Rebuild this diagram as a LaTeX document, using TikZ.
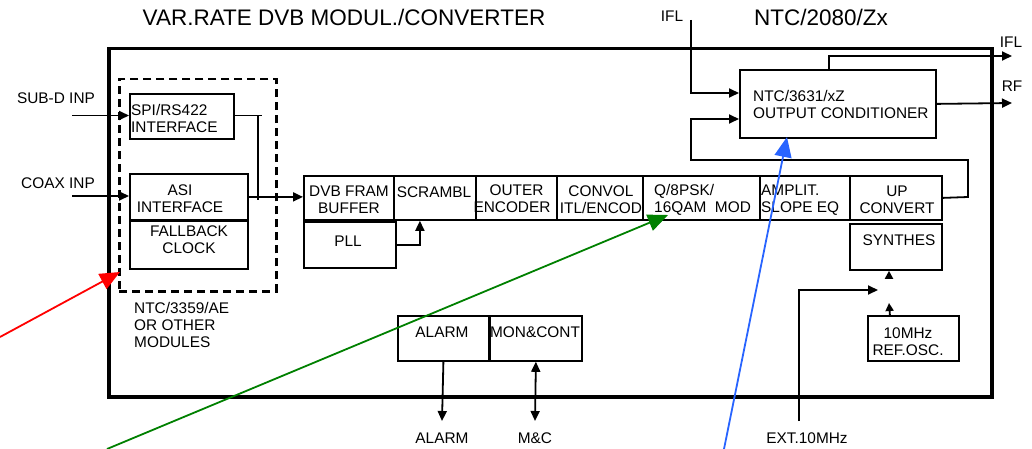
\documentclass[tikz,border=0pt]{standalone}
\usepackage{fontspec}
\setmainfont{Liberation Sans}
\usetikzlibrary{arrows.meta}
\begin{document}
\begin{tikzpicture}[x=1pt,y=-1pt,
  box/.style={draw, line width=1.8pt, inner sep=0pt, anchor=north west},
  txt/.style={font=\fontsize{15.4}{17}\selectfont, align=center, inner sep=0pt},
  ttl/.style={font=\fontsize{22.5}{26}\selectfont, inner sep=0pt},
  ln/.style={line width=1.8pt},
  arr/.style={ln, -{Triangle[length=10pt,width=9pt]}},
  sarr/.style={ln, -{Triangle[length=8pt,width=8pt]}},
  darr/.style={ln, {Triangle[length=10pt,width=9pt]}-{Triangle[length=10pt,width=9pt]}},
  pointer/.style={line width=1.8pt, -{Triangle[length=20pt,width=17pt]}}
]
\useasboundingbox (0,0) rectangle (1032,449);
% frames
\node[box, line width=3.5pt, minimum width=883pt, minimum height=348pt] (main) at (107,47) {};
\node[box, line width=2.5pt, dash pattern=on 8pt off 5pt, minimum width=157pt, minimum height=212pt] (modules) at (118,78) {};
% titles
\node[ttl] (t1) at (344,17) {VAR.RATE DVB MODUL./CONVERTER};
\node[ttl] (t2) at (821,17) {NTC/2080/Zx};
% boxes
\node[box, minimum width=104pt, minimum height=45pt] (spi) at (129,93) {};
\node[box, minimum width=118pt, minimum height=46pt] (asi) at (129,173) {};
\node[box, minimum width=118pt, minimum height=48pt] (fb) at (129,220) {};
\node[box, minimum width=90pt, minimum height=44pt] (dvb) at (303,175) {};
\node[box, minimum width=92pt, minimum height=46pt] (pll) at (303,221) {};
\node[box, minimum width=82pt, minimum height=44pt] (scr) at (393,175) {};
\node[box, minimum width=81pt, minimum height=44pt] (outer) at (475,175) {};
\node[box, minimum width=86pt, minimum height=44pt] (conv) at (556,175) {};
\node[box, minimum width=117pt, minimum height=44pt] (qmod) at (642,175) {};
\node[box, minimum width=90pt, minimum height=44pt] (amp) at (759,175) {};
\node[box, minimum width=92pt, minimum height=44pt] (upc) at (849,175) {};
\node[box, minimum width=92pt, minimum height=46pt] (syn) at (849,223) {};
\node[box, minimum width=91pt, minimum height=45pt] (ref) at (867,315) {};
\node[box, minimum width=196pt, minimum height=68pt] (occ) at (739,69) {};
\node[box, minimum width=91pt, minimum height=45pt] (alarm) at (397,315) {};
\node[box, minimum width=92pt, minimum height=45pt] (mc) at (489,315) {};
% box texts
\node[txt, anchor=west, align=left] (spit) at (131,118) {SPI/RS422\\INTERFACE};
\node[txt] (asit) at (180,199) {ASI\\INTERFACE};
\node[txt] (fbt) at (189,240) {FALLBACK\\CLOCK};
\node[txt] (dvbt) at (349,200) {DVB FRAM\\BUFFER};
\node[txt] (pllt) at (348,241) {PLL};
\node[txt] (scrt) at (434,192) {SCRAMBL};
\node[txt] (outert) at (512,199) {\hspace*{9pt}OUTER\\ENCODER};
\node[txt] (convt) at (601,200) {CONVOL\\ITL/ENCOD};
\node[txt, anchor=west, align=left] (qmodt) at (654,200) {Q/8PSK/\\16QAM\ \ MOD};
\node[txt, anchor=west, align=left] (ampt) at (761,200) {AMPLIT.\\SLOPE EQ};
\node[txt] (upct) at (897,200) {UP\\CONVERT};
\node[txt] (synt) at (899,240) {SYNTHES};
\node[txt] (reft) at (908,342) {10MHz\\REF.OSC.};
\node[txt, anchor=west, align=left] (occt) at (753,104) {NTC/3631/xZ\\OUTPUT CONDITIONER};
\node[txt] (alarmt) at (442,332) {ALARM};
\node[txt] (mct) at (535,332) {MON\&CONT};
\node[txt, anchor=west, align=left] (modt) at (134,325) {NTC/3359/AE\\OR OTHER\\MODULES};
% outside labels
\node[txt] (subd) at (56,98) {SUB-D INP};
\node[txt] (coax) at (58,183) {COAX INP};
\node[txt] (ifl1) at (672,16) {IFL};
\node[txt] (ifl2) at (1011,42) {IFL};
\node[txt] (rf) at (1012,86) {RF};
\node[txt] (alarml) at (442,438) {ALARM};
\node[txt] (mcl) at (535,438) {M\&C};
\node[txt] (extl) at (807,438) {EXT.10MHz};
% coordinates
\coordinate (subdin) at (72,115.5);
\coordinate (coaxin) at (72,196);
\coordinate (spiend) at (262,115.5);
\coordinate (jtop) at (258,115.5);
\coordinate (jbot) at (258,200);
\coordinate (ifltop) at (691,20);
\coordinate (iflout) at (1012,56);
\coordinate (rfout) at (1012,103);
\coordinate (ext) at (799,421);
\coordinate (extend) at (878,290);
\coordinate (swlow) at (889,303);
\coordinate (swhigh) at (889,278);
\coordinate (alarmout) at (442,421);
\coordinate (mcout) at (535,421);
\coordinate (redstart) at (0,337);
\coordinate (redtip) at (120,272);
\coordinate (greenstart) at (107,449);
\coordinate (greentip) at (668,215);
\coordinate (bluestart) at (724,449);
\coordinate (bluetip) at (787,137);
% connectors
\draw[arr] (subdin) -- (subdin -| spi.west);
\draw[arr] (coaxin) -- (coaxin -| asi.west);
\draw[ln] (spi.east |- spiend) -- (spiend);
\draw[ln] (jtop) -- (jbot);
\draw[arr] (asi.east) -- (asi.east -| dvb.west);
\draw[arr] (pll.east) -| ([xshift=-15pt]scr.south);
\draw[arr] (upc.east) -- (968,197) -- (968,160) -- (691,160) -- (691,119) -- (691,119 -| occ.west);
\draw[arr] (ifltop) -- (691,93) -- (691,93 -| occ.west);
\draw[arr] ([xshift=-9pt]occ.north) -- ([xshift=-9pt]occ.north |- iflout) -- (iflout);
\draw[arr] (occ.east) -- (rfout);
\draw[arr] (ext) |- (extend);
\draw[sarr] ([xshift=-23.5pt]ref.north) -- (swlow);
\draw[sarr] (swhigh) -- (swhigh |- syn.south);
\draw[arr] (alarm.south) -- (alarmout);
\draw[darr] (mc.south) -- (mcout);
% annotation pointers
\draw[pointer, red] (redstart) -- (redtip);
\draw[pointer, green!50!black] (greenstart) -- (greentip);
\draw[pointer, blue!80!cyan!90!white, color={rgb,255:red,40;green,100;blue,255}] (bluestart) -- (bluetip);
\end{tikzpicture}
\end{document}
